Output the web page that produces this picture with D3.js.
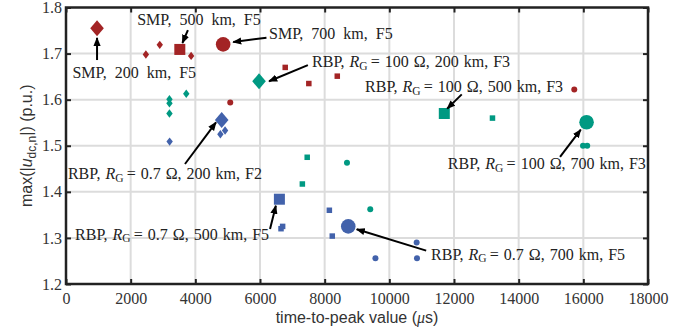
<!DOCTYPE html>
<html><head><meta charset="utf-8">
<script src="https://cdn.jsdelivr.net/npm/d3@7"></script>
<style>body{margin:0;background:#fff}svg{display:block}</style>
</head><body>
<script>
// ---- data ----
const xTicks = [0,2000,4000,6000,8000,10000,12000,14000,16000,18000];
const yTicks = [1.2,1.3,1.4,1.5,1.6,1.7,1.8];
// [time-to-peak (us), max |u| (p.u.), shape, highlighted]
const smpPoints = [
  [960,1.755,"diamond",1],[2470,1.698,"diamond",0],[2900,1.719,"diamond",0],[3870,1.695,"diamond",0],
  [3520,1.709,"square",1],[6780,1.670,"square",0],[7510,1.635,"square",0],[8390,1.651,"square",0],
  [4860,1.720,"circle",1],[5080,1.594,"circle",0],[15720,1.622,"circle",0]
];
const rbp100Points = [
  [5970,1.640,"diamond",1],[3200,1.601,"diamond",0],[3200,1.592,"diamond",0],[3200,1.570,"diamond",0],[3720,1.613,"diamond",0],
  [11700,1.570,"square",1],[13190,1.560,"square",0],[7460,1.475,"square",0],[7310,1.417,"square",0],
  [16100,1.551,"circle",1],[15990,1.500,"circle",0],[16120,1.500,"circle",0],[8690,1.463,"circle",0],[9410,1.362,"circle",0]
];
const rbp07Points = [
  [4815,1.556,"diamond",1],[4775,1.525,"diamond",0],[4920,1.533,"diamond",0],[3205,1.509,"diamond",0],
  [6600,1.384,"square",1],[6650,1.320,"square",0],[6700,1.325,"square",0],[8145,1.360,"square",0],[8235,1.304,"square",0],
  [8730,1.325,"circle",1],[9570,1.256,"circle",0],[10845,1.290,"circle",0],[10855,1.256,"circle",0]
];
const seriesColors = {smp:"#a32425", rbp100:"#009982", rbp07:"#4262ab"};
// annotations: label parts, label anchor (data), arrow start (data) -> arrow end (data)
const annotations = [
  {ws:4, parts:[["SMP, 200 km, F5"]], tx:200, ty:1.6465, ax:960, ay:1.686, bx:960, by:1.734},
  {ws:4, parts:[["SMP, 500 km, F5"]], tx:2200, ty:1.762, ax:3770, ay:1.751, bx:3600, by:1.723},
  {ws:4, parts:[["SMP, 700 km, F5"]], tx:6280, ty:1.7315, ax:6200, ay:1.7345, bx:5170, by:1.725},
  {ws:1, parts:[["RBP, "],["R","i"],["G","s"],["\u2009= 100 \u03A9, 200 km, F3"]], tx:7610, ty:1.6705, ax:7480, ay:1.675, bx:6280, by:1.64},
  {ws:1, parts:[["RBP, "],["R","i"],["G","s"],["\u2009= 100 \u03A9, 500 km, F3"]], tx:9250, ty:1.6165, ax:12240, ay:1.6115, bx:11790, by:1.5805},
  {ws:1, parts:[["RBP, "],["R","i"],["G","s"],["\u2009= 100 \u03A9, 700 km, F3"]], tx:11810, ty:1.4495, ax:15280, ay:1.4758, bx:15920, by:1.535},
  {ws:1, parts:[["RBP, "],["R","i"],["G","s"],["\u2009= 0.7 \u03A9, 200 km, F2"]], tx:60, ty:1.4278, ax:3680, ay:1.4604, bx:4640, by:1.5508},
  {ws:1, parts:[["RBP, "],["R","i"],["G","s"],["\u2009= 0.7 \u03A9, 500 km, F5"]], tx:280, ty:1.2955, ax:6310, ay:1.3193, bx:6490, by:1.3699},
  {ws:1, parts:[["RBP, "],["R","i"],["G","s"],["\u2009= 0.7 \u03A9, 700 km, F5"]], tx:11290, ty:1.2522, ax:11140, ay:1.2725, bx:8990, by:1.3187}
];

// ---- layout ----
const W = 686, H = 334;
const m = {l:66, r:38, t:7.5, b:50};
const svg = d3.select("body").append("svg").attr("width",W).attr("height",H);
const x = d3.scaleLinear().domain([0,18000]).range([m.l, W-m.r]);
const y = d3.scaleLinear().domain([1.2,1.8]).range([H-m.b, m.t]);
const serif = "'Liberation Serif','Times New Roman',serif";
const sans = "'Liberation Sans',Arial,sans-serif";

// grid
svg.append("g").selectAll("line").data(xTicks.slice(1,-1)).join("line")
  .attr("x1",d=>x(d)).attr("x2",d=>x(d)).attr("y1",y(1.2)).attr("y2",y(1.8))
  .attr("stroke","#dcdcdc").attr("stroke-width",2);
svg.append("g").selectAll("line").data(yTicks.slice(1,-1)).join("line")
  .attr("y1",d=>y(d)).attr("y2",d=>y(d)).attr("x1",x(0)).attr("x2",x(18000))
  .attr("stroke","#dcdcdc").attr("stroke-width",2);

// axes
function styleAxis(g){
  g.select(".domain").remove();
  g.selectAll(".tick line").attr("stroke","#222").attr("stroke-width",2);
  g.selectAll(".tick text").attr("font-family",serif).attr("font-size",16).attr("fill","#333");
}
svg.append("g").attr("transform",`translate(0,${y(1.2)})`)
  .call(d3.axisBottom(x).tickValues(xTicks).tickFormat(d3.format("d")).tickSizeInner(-5).tickPadding(9))
  .call(styleAxis);
svg.append("g").attr("transform",`translate(0,${y(1.8)})`)
  .call(d3.axisTop(x).tickValues(xTicks).tickFormat("").tickSizeInner(-5))
  .call(styleAxis);
svg.append("g").attr("transform",`translate(${x(0)},0)`)
  .call(d3.axisLeft(y).tickValues(yTicks).tickFormat(d3.format(".1f")).tickSizeInner(-5).tickPadding(4))
  .call(styleAxis);
svg.append("g").attr("transform",`translate(${x(18000)},0)`)
  .call(d3.axisRight(y).tickValues(yTicks).tickFormat("").tickSizeInner(-5))
  .call(styleAxis);
svg.append("rect").attr("x",x(0)).attr("y",y(1.8)).attr("width",x(18000)-x(0)).attr("height",y(1.2)-y(1.8))
  .attr("fill","none").attr("stroke","#222").attr("stroke-width",2.5);

// axis titles
const xt = svg.append("text").attr("x",(x(0)+x(18000))/2).attr("y",323).attr("text-anchor","middle")
  .attr("font-family",sans).attr("font-size",16).attr("fill","#333");
xt.append("tspan").text("time-to-peak value (");
xt.append("tspan").attr("font-style","italic").attr("font-family",serif).text("\u03BC");
xt.append("tspan").text("s)");
const yt = svg.append("text").attr("transform",`translate(32,${(y(1.2)+y(1.8))/2}) rotate(-90)`).attr("text-anchor","middle")
  .attr("font-family",sans).attr("font-size",16).attr("fill","#333");
yt.append("tspan").text("max(|");
yt.append("tspan").attr("font-style","italic").text("u");
yt.append("tspan").attr("font-size",12).attr("dy",4).text("dc,n");
yt.append("tspan").attr("dy",-4).text("|) (p.u.)");

// markers
function drawSeries(data,color){
  const g = svg.append("g");
  data.forEach(([vx,vy,shape,big])=>{
    const cx=x(vx), cy=y(vy);
    if(shape==="diamond"){
      const w = big?6.8:3.2, h = big?8:4.2;
      g.append("path").attr("d",`M${cx},${cy-h}L${cx+w},${cy}L${cx},${cy+h}L${cx-w},${cy}Z`).attr("fill",color);
    } else if(shape==="square"){
      const s = big?11:5.5;
      g.append("rect").attr("x",cx-s/2).attr("y",cy-s/2).attr("width",s).attr("height",s).attr("fill",color);
    } else {
      g.append("circle").attr("cx",cx).attr("cy",cy).attr("r",big?7.3:3).attr("fill",color);
    }
  });
}
drawSeries(smpPoints,seriesColors.smp);
drawSeries(rbp100Points,seriesColors.rbp100);
drawSeries(rbp07Points,seriesColors.rbp07);

// arrows
svg.append("defs").append("marker").attr("id","ah").attr("viewBox","0 0 10 10").attr("refX",9).attr("refY",5)
  .attr("markerWidth",9).attr("markerHeight",9).attr("markerUnits","userSpaceOnUse").attr("orient","auto")
  .append("path").attr("d","M0,1L10,5L0,9Z").attr("fill","#000");
annotations.forEach(a=>{
  svg.append("line").attr("x1",x(a.ax)).attr("y1",y(a.ay)).attr("x2",x(a.bx)).attr("y2",y(a.by))
    .attr("stroke","#000").attr("stroke-width",2).attr("marker-end","url(#ah)");
  const t = svg.append("text").attr("x",x(a.tx)).attr("y",y(a.ty)).attr("font-family",serif)
    .attr("font-size",16).attr("fill","#222").attr("word-spacing",a.ws+"px");
  let shifted=false;
  a.parts.forEach(([s,f])=>{
    const sp=t.append("tspan").text(s);
    if(f==="i") sp.attr("font-style","italic");
    if(f==="s"){ sp.attr("font-size",11.5).attr("dy",2.5); shifted=true; }
    else if(shifted){ sp.attr("dy",-2.5); shifted=false; }
  });
});
</script>
</body></html>
